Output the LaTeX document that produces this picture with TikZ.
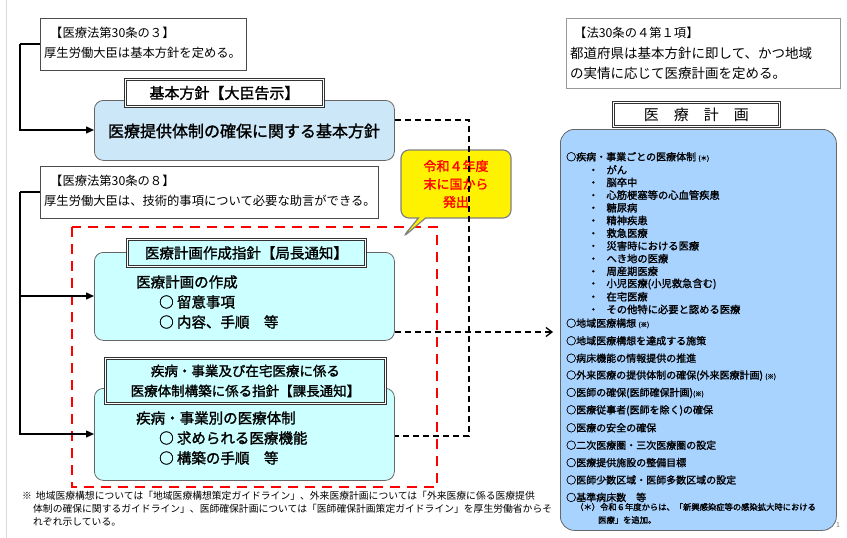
\documentclass[tikz,border=0pt]{standalone}
\usepackage{fontspec}
\setmainfont{Noto Sans CJK JP}
\newfontfamily\jpb{Noto Sans CJK JP}[FakeBold=1.5]
\usetikzlibrary{arrows.meta,shapes.callouts}
\definecolor{lblue}{HTML}{CCE8F8}
\definecolor{cyanbox}{HTML}{CCFFFF}
\definecolor{panel}{HTML}{A9D3FF}
\tikzset{
 law/.style={draw=black!70,line width=0.8pt,fill=white},
 ttl/.style={draw=black!80,double,double distance=1.3pt,line width=0.9pt,fill=white},
 rbox/.style={draw=black!60,line width=0.8pt,rounded corners=9pt},
 conn/.style={line width=1.4pt,-{Triangle[length=8pt,width=7pt]}},
 dconn/.style={dashed,dash pattern=on 6pt off 4pt,line width=1.3pt},
 txt/.style={anchor=west,inner sep=0pt,font=\fontsize{12.3}{14}\selectfont},
 big/.style={anchor=west,inner sep=0pt,font=\jpb\fontsize{14.5}{16}\selectfont},
 li/.style={anchor=west,inner sep=0pt,font=\jpb\fontsize{10}{11}\selectfont},
}
\begin{document}
\begin{tikzpicture}[x=1pt,y=-1pt]
\useasboundingbox[fill=white] (0,0) rectangle (847,538);
\draw[black!15] (6,0)--(6,538);
% left column
\node[law,minimum width=206,minimum height=52,anchor=north west] (A) at (40,18) {};
\node[txt] (At1) at (50,33) {【医療法第30条の３】};
\node[txt] (At2) at (44,53) {厚生労働大臣は基本方針を定める。};
\node[rbox,fill=lblue,minimum width=300,minimum height=60,anchor=north west] (K) at (94,100) {};
\node[font=\jpb\fontsize{16}{18}\selectfont] (Kt) at (244,131) {医療提供体制の確保に関する基本方針};
\node[ttl,minimum width=198,minimum height=27,anchor=north west,font=\jpb\fontsize{15}{17}\selectfont] (KT) at (125,79) {基本方針【大臣告示】};
\node[law,minimum width=338,minimum height=52,anchor=north west] (B) at (40,166) {};
\node[txt] (Bt1) at (50,181) {【医療法第30条の８】};
\node[txt] (Bt2) at (44,201) {厚生労働大臣は、技術的事項について必要な助言ができる。};
\draw[red,line width=2.2pt,dash pattern=on 10pt off 7pt] (72,227) rectangle (437,487);
\node[rbox,fill=cyanbox,minimum width=300,minimum height=88,anchor=north west] (C) at (94,252) {};
\node[ttl,fill=cyanbox,minimum width=238,minimum height=27,anchor=north west,inner xsep=1pt,font=\jpb\fontsize{14.5}{16}\selectfont] (CT) at (127,239) {医療計画作成指針【局長通知】};
\node[big] (C1) at (136,282) {医療計画の作成};
\node[big] (C2) at (159,302) {○ 留意事項};
\node[big] (C3) at (159,322) {○ 内容、手順　等};
\node[rbox,fill=cyanbox,minimum width=300,minimum height=92,anchor=north west] (D) at (94,388) {};
\node[ttl,fill=cyanbox,minimum width=280,minimum height=45,anchor=north west,inner xsep=1pt,font=\jpb\fontsize{13.5}{20}\selectfont,align=center] (DT) at (105,358) {疾病・事業及び在宅医療に係る\\医療体制構築に係る指針【課長通知】};
\node[big] (D1) at (136,418) {疾病・事業別の医療体制};
\node[big] (D2) at (159,438) {○ 求められる医療機能};
\node[big] (D3) at (159,458) {○ 構築の手順　等};
% callout
\node[rectangle callout,rounded corners=8pt,fill=yellow,draw=black!50,line width=1.2pt,minimum width=110,minimum height=68,
 callout absolute pointer={(402,238)},align=center,text=red,font=\jpb\fontsize{13}{18}\selectfont] (Y) at (456,184) {令和４年度\\末に国から\\発出};
% solid connectors
\coordinate (a0) at (20,44); \coordinate (b0) at (20,192);
\draw[line width=1.4pt] (A.west|-a0) -- (a0);
\draw[conn] (a0) |- (K.west|-0,130);
\draw[line width=1.4pt] (B.west|-b0) -- (b0);
\draw[conn] (b0) |- (C.west|-0,296);
\draw[conn] (b0) |- (D.west|-0,434);
% dashed connectors
\coordinate (v1) at (469,120); \coordinate (v2) at (469,436);
\draw[dconn] (K.east|-v1) -- (v1) -- (v2) -- (D.east|-v2);
\draw[dconn,-{Straight Barb[length=6pt,width=9pt]}] (C.east|-0,332) -- (553,332);
% right column
\node[law,draw=black!40,minimum width=274,minimum height=70,anchor=north west] (R) at (566,18) {};
\node[txt] (R1) at (574,33) {【法30条の４第１項】};
\node[txt,font=\fontsize{13.5}{15}\selectfont] (R2) at (570,53) {都道府県は基本方針に即して、かつ地域};
\node[txt,font=\fontsize{13.5}{15}\selectfont] (R3) at (570,73) {の実情に応じて医療計画を定める。};
\node[draw=black!60,line width=0.8pt,rounded corners=14pt,fill=panel,minimum width=276,minimum height=401,anchor=north west] (P) at (560,129) {};
\node[ttl,minimum width=166,minimum height=24,anchor=north west,font=\fontsize{15}{17}\selectfont] (PT) at (613,102) {医　療　計　画};
\node[li] (L0) at (566,157) {○疾病・事業ごとの医療体制 {\fontsize{6.5}{7}\selectfont(＊)}};
\foreach \t [count=\i] in {がん,脳卒中,心筋梗塞等の心血管疾患,糖尿病,精神疾患,救急医療,災害時における医療,へき地の医療,周産期医療,小児医療(小児救急含む),在宅医療,その他特に必要と認める医療}
 {\node[li,font=\jpb\fontsize{10.3}{11}\selectfont] (s\i) at (588,157+\i*12.7) {・\hspace{8pt}\t};}
\foreach \t [count=\i] in {{地域医療構想 {\fontsize{6.5}{7}\selectfont(※)}},地域医療構想を達成する施策,病床機能の情報提供の推進,{外来医療の提供体制の確保(外来医療計画) {\fontsize{6.5}{7}\selectfont(※)}},{医師の確保(医師確保計画){\fontsize{6.5}{7}\selectfont(※)}},医療従事者(医師を除く)の確保,医療の安全の確保,二次医療圏・三次医療圏の設定,医療提供施設の整備目標,医師少数区域・医師多数区域の設定,基準病床数　等}
 {\node[li] (m\i) at (566,306+\i*17.4) {○\t};}
\node[li,font=\jpb\fontsize{8.3}{9}\selectfont] (F1) at (575,507) {（＊）令和６年度からは、「新興感染症等の感染拡大時における};
\node[li,font=\jpb\fontsize{8.3}{9}\selectfont] (F2) at (598,520) {医療」を追加。};
\node[font=\fontsize{7}{8}\selectfont,text=black!50] (pg) at (838,525) {1};
% footnote
\node[anchor=north west,inner sep=0pt,align=left,font=\fontsize{9.8}{13}\selectfont] (N) at (22,491)
 {※\hspace{4pt}地域医療構想については「地域医療構想策定ガイドライン」、外来医療計画については「外来医療に係る医療提供\\\hspace{11pt}体制の確保に関するガイドライン」、医師確保計画については「医師確保計画策定ガイドライン」を厚生労働省からそ\\\hspace{11pt}れぞれ示している。};
\end{tikzpicture}
\end{document}
